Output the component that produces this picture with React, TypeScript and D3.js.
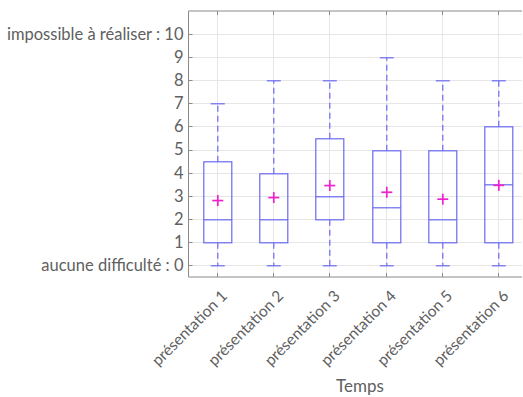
import React from "react";
import * as d3 from "d3";

const categories = ["présentation 1", "présentation 2", "présentation 3", "présentation 4", "présentation 5", "présentation 6"];
const mins = [0, 0, 0, 0, 0, 0];
const q1s = [1, 1, 2, 1, 1, 1];
const medians = [2, 2, 3, 2.5, 2, 3.5];
const q3s = [4.5, 4, 5.5, 5, 5, 6];
const maxs = [7, 8, 8, 9, 8, 8];
const means = [2.79, 2.92, 3.44, 3.15, 2.85, 3.45];
const yTicks = [0, 1, 2, 3, 4, 5, 6, 7, 8, 9, 10];
const yTickLabels = ["aucune difficulté : 0", "1", "2", "3", "4", "5", "6", "7", "8", "9", "impossible à réaliser : 10"];
const xTitle = "Temps";

const W = 523, H = 397;
const L = 188.5, R = 522, T = 11, B = 277;
const BLUE = "#6a6af2";
const MAG = "#ee22cc";
const AX = "#8a8a8a";
const TXT = "#606060";
const FONT = "Lato, sans-serif";

export default function App() {
  const xs = d3.scaleLinear().domain([0.5, 0.5 + (R - L) / 56.3]).range([L, R]);
  const ys = d3.scaleLinear().domain([-0.52, 11]).range([B, T]);
  const x = (v: number) => Math.round(xs(v)) + 0.5;
  const y = (v: number) => Math.round(ys(v)) + 0.5;
  const hw = 14, cw = 7;
  return (
    <svg width={W} height={H} style={{ position: "absolute", left: 0, top: 0 }}>
      <rect x={0} y={0} width={W} height={H} fill="#fff" />
      {yTicks.map((t) => (
        <line key={"gy" + t} x1={L} x2={R} y1={y(t)} y2={y(t)} stroke="#e6e6e6" strokeWidth={1} />
      ))}
      {categories.map((c, i) => (
        <line key={"gx" + i} x1={x(i + 1)} x2={x(i + 1)} y1={T} y2={B} stroke="#e6e6e6" strokeWidth={1} />
      ))}
      {yTicks.map((t) => (
        <line key={"ty" + t} x1={L} x2={L + 4} y1={y(t)} y2={y(t)} stroke={AX} />
      ))}
      {categories.map((c, i) => (
        <g key={"tx" + i}>
          <line x1={x(i + 1)} x2={x(i + 1)} y1={B} y2={B - 4} stroke={AX} />
          <line x1={x(i + 1)} x2={x(i + 1)} y1={T} y2={T + 4} stroke={AX} />
        </g>
      ))}
      {categories.map((c, i) => {
        const cx = x(i + 1) + 0.3;
        const yy = (v: number) => y(v) + 0.3;
        return (
          <g key={"b" + i} fill="none" stroke={BLUE} strokeWidth={1.2}>
            <line x1={cx} x2={cx} y1={yy(q3s[i])} y2={yy(maxs[i])} strokeDasharray="6,4" />
            <line x1={cx} x2={cx} y1={yy(q1s[i])} y2={yy(mins[i])} strokeDasharray="6,4" />
            <line x1={cx - cw} x2={cx + cw} y1={yy(maxs[i])} y2={yy(maxs[i])} />
            <line x1={cx - cw} x2={cx + cw} y1={yy(mins[i])} y2={yy(mins[i])} />
            <rect x={cx - hw} y={yy(q3s[i])} width={2 * hw} height={yy(q1s[i]) - yy(q3s[i])} />
            <line x1={cx - hw} x2={cx + hw} y1={yy(medians[i])} y2={yy(medians[i])} />
            <g stroke={MAG} strokeWidth={1.7}>
              <line x1={cx - 5.5} x2={cx + 5.5} y1={ys(means[i])} y2={ys(means[i])} />
              <line x1={cx} x2={cx} y1={ys(means[i]) - 5.5} y2={ys(means[i]) + 5.5} />
            </g>
          </g>
        );
      })}
      <path d={`M${R},${T}H${L}V${B}H${R}`} fill="none" stroke={AX} strokeWidth={1} />
      {yTicks.map((t, k) => (
        <text key={"yl" + t} x={L - 5} y={ys(t)} dy="0.36em" textAnchor="end" fontFamily={FONT} fontSize={16.5} fill={TXT}>
          {yTickLabels[k]}
        </text>
      ))}
      {categories.map((c, i) => (
        <text key={"xl" + i} transform={`translate(${xs(i + 1) + 11.5},${B + 20}) rotate(-45)`} textAnchor="end" fontFamily={FONT} fontSize={15.5} fill={TXT}>
          {c}
        </text>
      ))}
      <text x={360} y={392} textAnchor="middle" fontFamily={FONT} fontSize={17} fill={TXT}>{xTitle}</text>
    </svg>
  );
}
